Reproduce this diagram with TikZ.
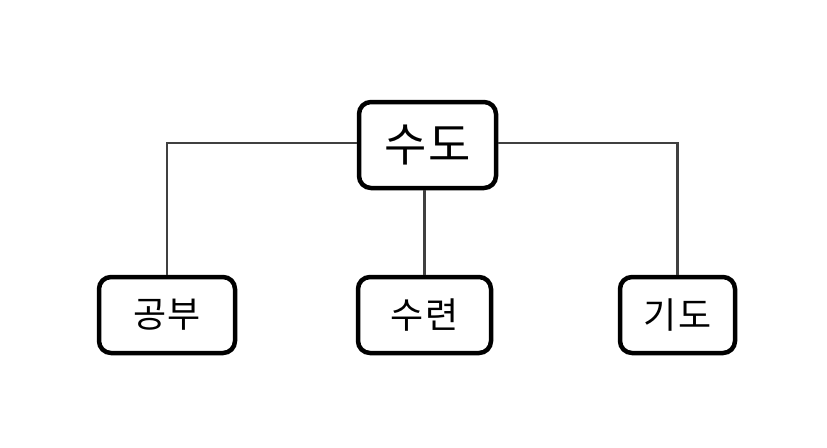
\documentclass[tikz,border=0pt]{standalone}
\usepackage{fontspec}
\newfontfamily\kr[LetterSpace=4]{Noto Sans CJK KR}
\begin{document}
\begin{tikzpicture}[x=1pt,y=-1pt,
  box/.style={draw=black,line width=4.5pt,rounded corners=12pt,fill=white,inner sep=0pt},
  conn/.style={draw=black!75,line width=2.4pt}]
\useasboundingbox[fill=white] (0,0) rectangle (827,447);
\node[box,minimum width=137pt,minimum height=86pt,font=\kr\fontsize{46}{50}\selectfont] (top) at (427.5,145) {수도};
\node[box,minimum width=136pt,minimum height=76pt,font=\kr\fontsize{36}{40}\selectfont] (a) at (167,315) {공부};
\node[box,minimum width=133pt,minimum height=76pt,font=\kr\fontsize{36}{40}\selectfont] (b) at (424.5,315) {수련};
\node[box,minimum width=115pt,minimum height=76pt,font=\kr\fontsize{36}{40}\selectfont] (c) at (677.5,315) {기도};
\draw[conn] (top.west |- 0,143) -| (a.north);
\draw[conn] (top.east |- 0,143) -| (c.north);
\draw[conn] (top.south -| b.north) -- (b.north);
\end{tikzpicture}
\end{document}
